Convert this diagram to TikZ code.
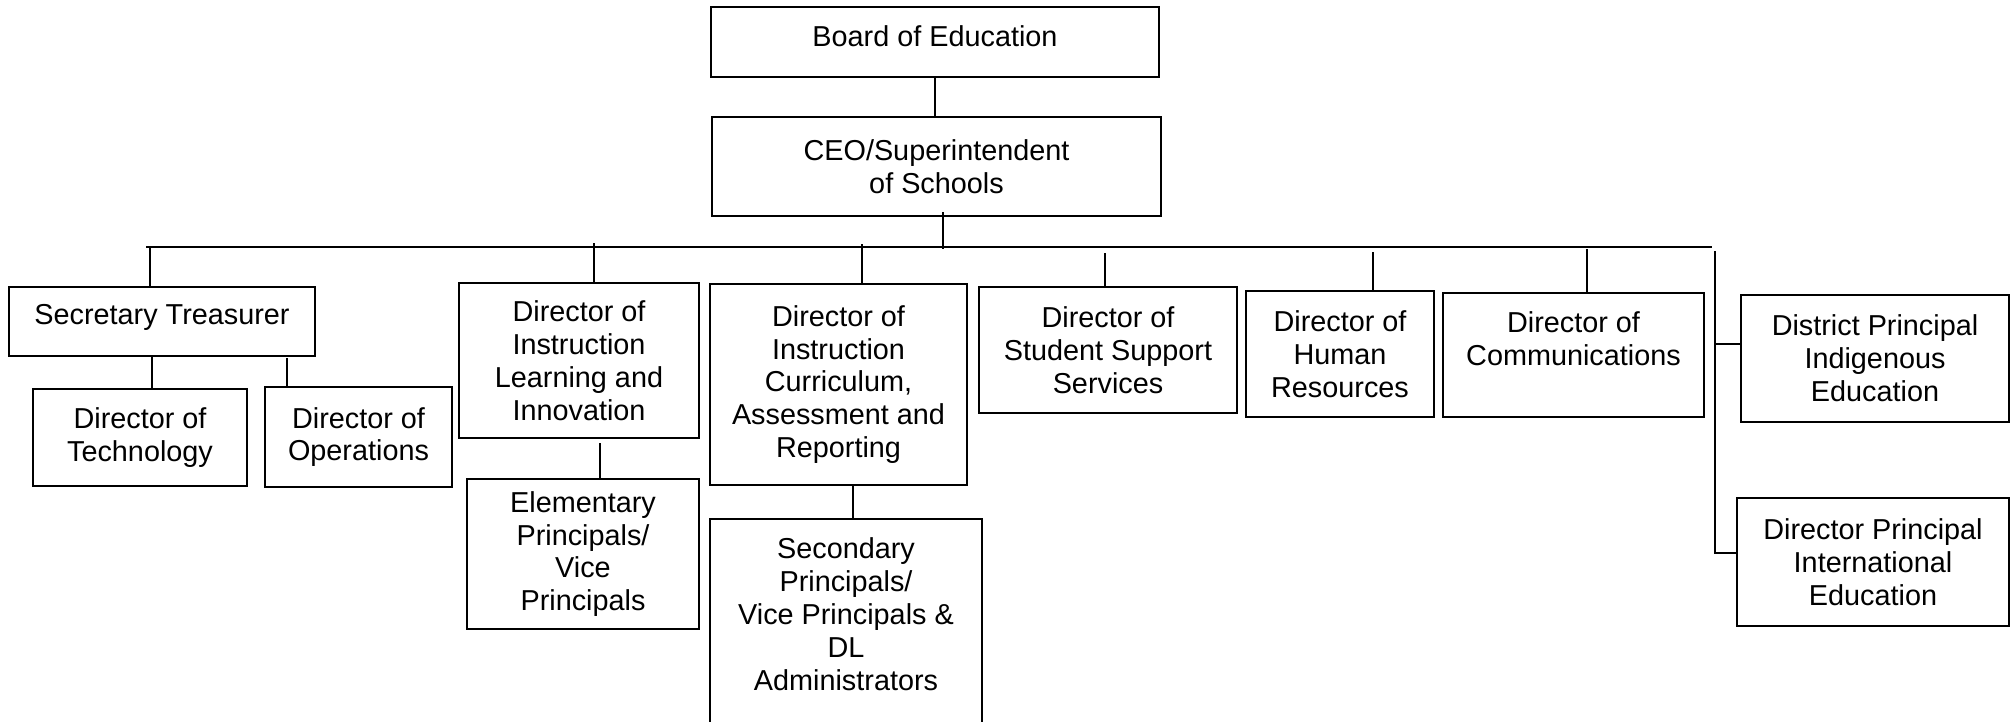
\documentclass[tikz,border=0pt]{standalone}
\usepackage{fontspec}
\setmainfont{Liberation Sans}

\begin{document}
\begin{tikzpicture}[x=0.02cm, y=-0.02cm,
	orgbox/.style 2 args={draw, line width=0.7pt, align=center, inner sep=0pt,
		minimum width=#1*0.02cm, minimum height=#2*0.02cm,
		font=\fontsize{16.4}{18.7}\selectfont},
	orgline/.style={line width=0.7pt}]
	
	\useasboundingbox (0,0) rectangle (2011,721);
	\clip (0,0) rectangle (2011,721);
	
	% top boxes
	\node[orgbox={448}{70}, text depth=0.24cm] (board) at (935,42) {Board of Education};
	\node[orgbox={449}{99}] (ceo) at (936.5,166.5) {CEO/Superintendent\\of Schools};
	
	% first row
	\node[orgbox={306}{69}, text depth=0.3cm] (sec) at (162,321.5) {Secretary Treasurer};
	\node[orgbox={240}{155}] (dil) at (579,360.5) {Director of\\Instruction\\Learning and\\Innovation};
	\node[orgbox={257}{201}] (dic) at (838.5,384.5) {Director of\\Instruction\\Curriculum,\\Assessment and\\Reporting};
	\node[orgbox={258}{126}] (sss) at (1108,350) {Director of\\Student Support\\Services};
	\node[orgbox={188}{126}] (hr) at (1340,354) {Director of\\Human\\Resources};
	\node[orgbox={261}{124}] (comm) at (1573.5,355) {Director of\\Communications\\\mbox{}};
	\node[orgbox={268}{127}] (dpi) at (1875,358.5) {District Principal\\Indigenous\\Education};
	\node[orgbox={272}{128}] (dpie) at (1873,562) {Director Principal\\International\\Education};
	
	% second row
	\node[orgbox={214}{97}] (tech) at (140,437.5) {Director of\\Technology};
	\node[orgbox={187}{100}] (ops) at (358.5,437) {Director of\\Operations};
	\node[orgbox={232}{150}] (elem) at (583,554) {Elementary\\Principals/\\Vice\\Principals};
	\node[orgbox={272}{256}] (secd) at (846,647) {Secondary\\Principals/\\Vice Principals \&\\DL\\Administrators\\\mbox{}\\\mbox{}};
	
	% lines
	\coordinate (busL) at (146,247);
	\coordinate (busR) at (1712,247);
	\draw[orgline] (board.south) -- (board.south |- ceo.north);
	\draw[orgline] (943,212) -- (943,249);
	\draw[orgline] (busL) -- (busR);
	\foreach \xx/\yy/\nn in {150/247/sec, 594/243/dil, 862/244/dic, 1105/253/sss, 1373/252/hr, 1587/249/comm, 152/356/tech, 287/358/ops, 600/443/elem, 853/485/secd}
		\draw[orgline] (\xx,\yy) -- (\xx,\yy |- \nn.north);
	
	% right side
	\coordinate (vtop) at (1715,251);
	\draw[orgline] (vtop) -- (1715,553) -- (1715,553 -| dpie.west);
	\draw[orgline] (1715,344) -- (1715,344 -| dpi.west);
	
\end{tikzpicture}
\end{document}
